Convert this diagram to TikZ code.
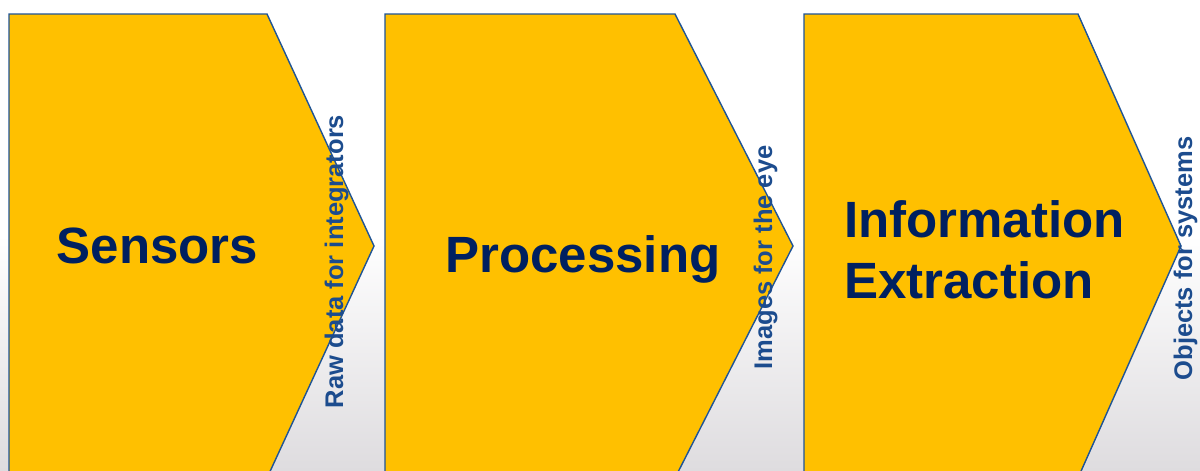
\documentclass[tikz,border=0pt]{standalone}
\usepackage{fontspec}
\setmainfont{Liberation Sans}
\usetikzlibrary{positioning}
\definecolor{gold}{RGB}{255,192,0}
\definecolor{edgeblue}{RGB}{31,84,150}
\definecolor{navy}{RGB}{0,32,96}
\definecolor{labelblue}{RGB}{28,76,142}
\definecolor{bggray}{RGB}{222,220,223}

\begin{document}
\begin{tikzpicture}[x=1pt,y=-1pt,
stage/.style={fill=gold,draw=edgeblue,line width=1.4pt,line join=miter},
title/.style={text=navy,font=\bfseries\fontsize{51}{61}\selectfont,inner sep=0pt},
flow/.style={text=labelblue,font=\bfseries\fontsize{25.5}{30}\selectfont,inner sep=0pt,rotate=90,anchor=base}]
\useasboundingbox (0,0) rectangle (1200,471);
\clip (0,0) rectangle (1200,471);
% background
\fill[white] (0,0) rectangle (1200,236);
\shade[top color=white,bottom color=bggray] (0,235) rectangle (1200,471);
% the three stages
\draw[stage] (9,14)--(267,14)--(374,246)--(267,478)--(9,478)--cycle;
\draw[stage] (385,14)--(675,14)--(793,246)--(675,478)--(385,478)--cycle;
\draw[stage] (804,14)--(1078,14)--(1181,246)--(1078,478)--(804,478)--cycle;
\node[title,anchor=base] (Sens) at (157.5,263) {Sensors};
\node[title,anchor=base] (Proc) at (583,272) {Processing};
\node[title,anchor=north west,align=left] (Info) at (844,200) {Information\\Extraction};
% what each stage hands on
\node[flow] (Raw) at (343,261.5) {Raw data for integrators};
\node[flow] (Img) at (772,257.5) {Images for the eye};
\node[flow] (Obj) at (1192,258.5) {Objects for systems};
\end{tikzpicture}
\end{document}
